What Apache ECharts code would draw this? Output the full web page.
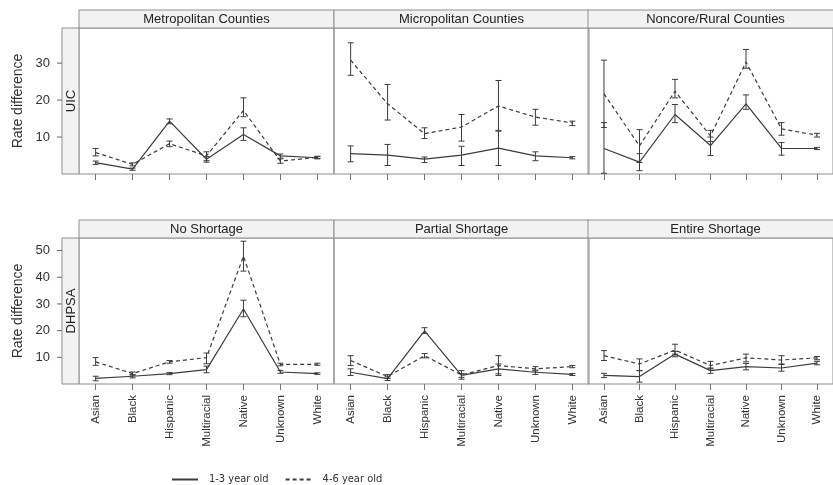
<!DOCTYPE html>
<html>
<head>
<meta charset="utf-8">
<script src="https://cdn.jsdelivr.net/npm/echarts@6/dist/echarts.min.js"></script>
<style>
  html, body { margin: 0; padding: 0; background: #fff; }
  #chart { width: 833px; height: 485px; }
</style>
</head>
<body>
<div id="chart"></div>
<script>
// categories and panel labels
const cats = ['Asian', 'Black', 'Hispanic', 'Multiracial', 'Native', 'Unknown', 'White']
const topStrips = ['Metropolitan Counties', 'Micropolitan Counties', 'Noncore/Rural Counties']
const bottomStrips = ['No Shortage', 'Partial Shortage', 'Entire Shortage']
const rowLabels = ['UIC', 'DHPSA']
const seriesNames = ['1-3 year old', '4-6 year old']
const topTicks = [10, 20, 30]
const bottomTicks = [10, 20, 30, 40, 50]

// [lower, mean, upper] per category
const metro13 = [[2.6, 3.1, 3.5], [1.0, 1.3, 1.6], [13.6, 14.3, 14.9], [3.2, 4.0, 4.7], [9.1, 10.7, 12.5], [4.3, 4.9, 5.4], [4.1, 4.4, 4.7]]
const metro46 = [[4.9, 5.8, 6.9], [2.2, 2.6, 3.0], [7.4, 8.2, 8.9], [3.6, 4.9, 6.0], [15.5, 17.2, 20.6], [2.9, 3.5, 4.1], [4.2, 4.5, 4.8]]
const micro13 = [[3.3, 5.5, 7.6], [2.3, 5.1, 8.0], [3.1, 4.0, 4.6], [2.3, 5.1, 7.5], [2.3, 7.0, 11.8], [3.6, 4.9, 6.0], [4.1, 4.4, 4.7]]
const micro46 = [[26.7, 30.8, 35.5], [14.6, 19.0, 24.2], [9.6, 10.9, 12.5], [8.9, 12.7, 16.1], [11.6, 18.4, 25.3], [13.2, 15.4, 17.5], [13.1, 13.8, 14.3]]
const rural13 = [[0.2, 6.9, 13.9], [0.9, 3.2, 5.5], [13.9, 16.1, 18.8], [5.0, 7.7, 10.0], [17.5, 19.0, 21.4], [5.1, 6.9, 8.5], [6.6, 6.9, 7.2]]
const rural46 = [[12.6, 21.7, 30.8], [3.1, 7.6, 12.0], [20.6, 22.4, 25.6], [8.8, 10.3, 11.8], [28.6, 30.3, 33.7], [10.5, 12.2, 13.9], [10.0, 10.5, 11.0]]
const noShort13 = [[1.2, 2.1, 2.9], [2.3, 2.9, 3.5], [3.5, 3.9, 4.3], [4.2, 5.4, 6.7], [25.2, 28.1, 31.4], [4.0, 4.5, 5.1], [3.6, 3.9, 4.2]]
const noShort46 = [[7.0, 8.3, 9.9], [3.3, 3.9, 4.5], [7.8, 8.3, 8.8], [7.6, 9.9, 11.6], [42.3, 47.9, 53.5], [6.8, 7.3, 7.8], [7.0, 7.4, 7.8]]
const partial13 = [[3.2, 4.4, 5.7], [1.3, 2.0, 2.7], [18.9, 19.9, 21.1], [2.5, 3.2, 3.9], [3.8, 5.7, 7.5], [3.6, 4.4, 5.2], [3.2, 3.6, 3.9]]
const partial46 = [[6.9, 8.8, 10.6], [2.1, 2.8, 3.5], [9.8, 10.6, 11.4], [1.8, 3.4, 5.0], [3.2, 6.9, 10.6], [4.9, 5.7, 6.5], [6.1, 6.5, 6.9]]
const entire13 = [[2.4, 3.2, 4.0], [0.7, 2.8, 5.0], [10.2, 11.2, 12.2], [4.0, 5.0, 6.0], [5.3, 6.5, 7.7], [4.8, 6.0, 7.3], [7.2, 7.8, 8.5]]
const entire46 = [[8.8, 10.6, 12.5], [5.0, 7.5, 9.4], [11.2, 12.7, 14.9], [5.7, 6.9, 8.5], [8.3, 9.8, 11.2], [7.5, 9.0, 10.6], [9.1, 9.8, 10.3]]

const panelData = [
  [metro13, metro46], [micro13, micro46], [rural13, rural46],
  [noShort13, noShort46], [partial13, partial46], [entire13, entire46]
]

const lefts = [79, 334, 588]
const tops = [28, 238]
const yMax = [39.5, 54.7]
const panelW = 255
const panelH = 146
const frame = '#8f8f8f'
const ink = '#3c3c3c'
const font = '"Liberation Sans", Arial, sans-serif'

const grids = []
const xAxes = []
const yAxes = []
const series = []
const graphics = []

panelData.forEach((pair, p) => {
  const row = Math.floor(p / 3)
  const col = p % 3
  grids.push({
    left: lefts[col], top: tops[row], width: panelW, height: panelH,
    show: true, borderColor: frame, borderWidth: 1, containLabel: false
  })
  xAxes.push({
    type: 'value', gridIndex: p, min: -0.45, max: 6.45,
    axisLine: { show: false, onZero: false },
    splitLine: { show: false },
    axisTick: { show: true, length: 6, customValues: [0, 1, 2, 3, 4, 5, 6], lineStyle: { color: '#777' } },
    axisLabel: {
      show: row === 1, rotate: 90, margin: 11, customValues: [0, 1, 2, 3, 4, 5, 6],
      formatter: v => cats[v], color: '#333', fontSize: 11.5, fontFamily: font
    }
  })
  yAxes.push({
    type: 'value', gridIndex: p, min: 0, max: yMax[row], show: false,
    splitLine: { show: false }
  })
  pair.forEach((vals, k) => {
    series.push({
      type: 'line', name: seriesNames[k], xAxisIndex: p, yAxisIndex: p,
      data: vals.map((d, i) => [i, d[1]]),
      symbol: 'none', silent: true, animation: false,
      lineStyle: { color: ink, width: 1.2, type: k === 0 ? 'solid' : [4, 3] },
      itemStyle: { color: ink }
    })
    series.push({
      type: 'custom', xAxisIndex: p, yAxisIndex: p, silent: true, animation: false,
      data: vals.map((d, i) => [i, d[0], d[2]]),
      encode: { x: 0, y: [1, 2] },
      renderItem: (params, api) => {
        const x = api.value(0)
        const lo = api.coord([x, api.value(1)])
        const hi = api.coord([x, api.value(2)])
        const w = 3
        const st = { stroke: ink, lineWidth: 1 }
        return {
          type: 'group',
          children: [
            { type: 'line', shape: { x1: lo[0], y1: lo[1], x2: hi[0], y2: hi[1] }, style: st },
            { type: 'line', shape: { x1: lo[0] - w, y1: lo[1], x2: lo[0] + w, y2: lo[1] }, style: st },
            { type: 'line', shape: { x1: hi[0] - w, y1: hi[1], x2: hi[0] + w, y2: hi[1] }, style: st }
          ]
        }
      }
    })
  })
  // strip header
  graphics.push({
    type: 'rect', shape: { x: lefts[col], y: tops[row] - 18, width: panelW, height: 18 },
    style: { fill: '#f2f2f2', stroke: frame, lineWidth: 1 }, silent: true
  })
  graphics.push({
    type: 'text', x: lefts[col] + panelW / 2, y: tops[row] - 9, silent: true,
    style: {
      text: (row === 0 ? topStrips : bottomStrips)[col], fill: '#222',
      font: '13px ' + font, align: 'center', verticalAlign: 'middle'
    }
  })
})

// row strips on the left, with the y axis on their left edge
rowLabels.forEach((lab, row) => {
  const gi = grids.length
  const ticks = row === 0 ? topTicks : bottomTicks
  grids.push({ left: 62, top: tops[row], width: 17, height: panelH, show: false })
  xAxes.push({ type: 'value', gridIndex: gi, min: 0, max: 1, show: false })
  yAxes.push({
    type: 'value', gridIndex: gi, min: 0, max: yMax[row], position: 'left',
    name: 'Rate difference', nameLocation: 'middle', nameGap: 37,
    nameTextStyle: { fontSize: 14, color: '#333', fontFamily: font },
    axisLine: { show: false, onZero: false },
    splitLine: { show: false },
    axisTick: { show: false },
    axisLabel: {
      customValues: ticks, margin: 12,
      color: '#333', fontSize: 13, fontFamily: font
    }
  })
  // tick marks through the axis scale
  series.push({
    type: 'custom', xAxisIndex: gi, yAxisIndex: gi, silent: true, animation: false,
    data: ticks.map(t => [0, t]),
    encode: { x: 0, y: 1 },
    z: 10,
    renderItem: (params, api) => {
      const pt = api.coord([0, api.value(1)])
      return {
        type: 'line', shape: { x1: pt[0] - 5, y1: pt[1], x2: pt[0], y2: pt[1] },
        style: { stroke: '#666', lineWidth: 1 }
      }
    },
    clip: false
  })
  graphics.push({
    type: 'rect', shape: { x: 62, y: tops[row], width: 17, height: panelH },
    style: { fill: '#f2f2f2', stroke: frame, lineWidth: 1 }, silent: true
  })
  graphics.push({
    type: 'text', x: 71, y: tops[row] + panelH / 2, rotation: Math.PI / 2, silent: true,
    style: { text: lab, fill: '#222', font: '13px ' + font, align: 'center', verticalAlign: 'middle' }
  })
})

const chart = echarts.init(document.getElementById('chart'))
chart.setOption({
  animation: false,
  grid: grids,
  xAxis: xAxes,
  yAxis: yAxes,
  series: series,
  graphic: graphics,
  legend: {
    data: seriesNames, left: 166, top: 469,
    itemWidth: 26, itemHeight: 10, itemGap: 16,
    itemStyle: { opacity: 0 },
    textStyle: {
      color: '#333', fontSize: 11, padding: [0, 0, 0, 6],
      fontFamily: '"Liberation Sans Narrow", "DejaVu Sans Condensed", sans-serif'
    },
    selectedMode: false
  }
})
</script>
</body>
</html>
